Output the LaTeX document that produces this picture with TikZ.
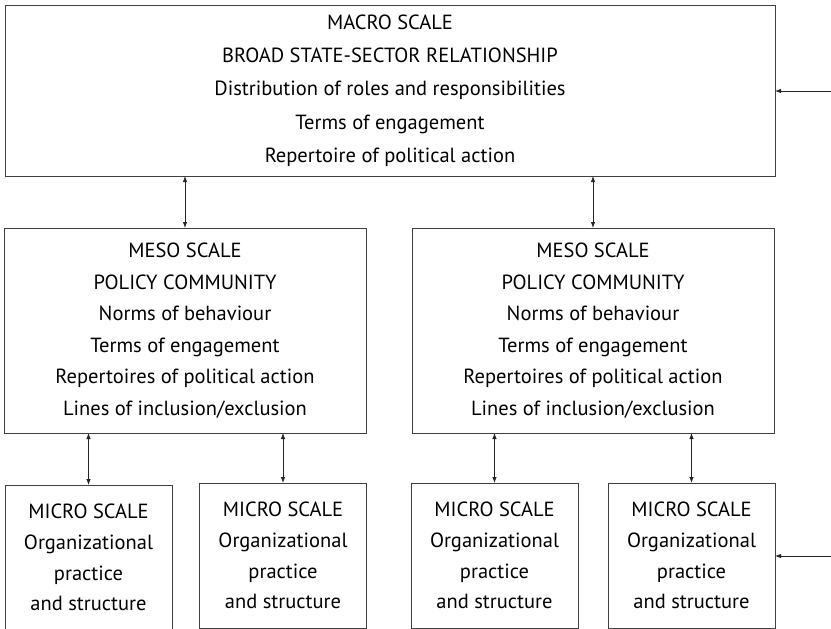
\documentclass[tikz,border=0pt]{standalone}
\usepackage{fontspec}
\setmainfont{PT Sans}
\usetikzlibrary{arrows.meta}
\begin{document}
\begin{tikzpicture}[x=1pt,y=-1pt,
  every node/.style={inner sep=0pt, outer sep=0pt},
  frame/.style={draw=black!75, line width=1pt},
  panel/.style={frame, align=center,
    font=\fontsize{20.5}{33.3}\selectfont},
  macrobox/.style={panel, minimum width=770pt, minimum height=171pt},
  mesobox/.style={panel, minimum width=362pt, minimum height=205pt,
    font=\fontsize{20.5}{31.5}\selectfont},
  microbox/.style={panel, minimum width=167pt, minimum height=145pt,
    font=\fontsize{20.5}{30.7}\selectfont},
  link/.style={draw=black!85, line width=0.8pt,
    {Latex[length=6pt,width=4.5pt]}-{Latex[length=6pt,width=4.5pt]}},
  feed/.style={draw=black!85, line width=0.8pt, -{Latex[length=6pt,width=4.5pt]}}
]
\clip (0,0) rectangle (831,629);
\useasboundingbox (0,0) rectangle (831,629);

% macro level
\node[macrobox] (macro) at (390,90.5) {MACRO SCALE\\BROAD STATE-SECTOR RELATIONSHIP\\Distribution of roles and responsibilities\\Terms of engagement\\Repertoire of political action};

% meso level
\node[mesobox] (mesoL) at (185,330.5) {MESO SCALE\\POLICY COMMUNITY\\Norms of behaviour\\Terms of engagement\\Repertoires of political action\\Lines of inclusion/exclusion};
\node[mesobox] (mesoR) at (593,330.5) {MESO SCALE\\POLICY COMMUNITY\\Norms of behaviour\\Terms of engagement\\Repertoires of political action\\Lines of inclusion/exclusion};

% micro level (the first box runs past the lower edge)
\node[microbox, draw=none] (micro1) at (88.5,557.5) {MICRO SCALE\\Organizational\\practice\\and structure};
\draw[frame] (micro1.north west) rectangle ([yshift=-30pt]micro1.south east);
\node[microbox] (micro2) at (283,555.5) {MICRO SCALE\\Organizational\\practice\\and structure};
\node[microbox] (micro3) at (494.5,555.5) {MICRO SCALE\\Organizational\\practice\\and structure};
\node[microbox] (micro4) at (691.5,555.5) {MICRO SCALE\\Organizational\\practice\\and structure};

% links between levels
\draw[link] (macro.south -| mesoL.north) -- (mesoL.north);
\draw[link] (macro.south -| mesoR.north) -- (mesoR.north);
\draw[link] (mesoL.south -| micro1.north) -- (micro1.north);
\draw[link] (mesoL.south -| micro2.north) -- (micro2.north);
\draw[link] (mesoR.south -| micro3.north) -- (micro3.north);
\draw[link] (mesoR.south -| micro4.north) -- (micro4.north);

% external inputs from the right
\coordinate (inTop) at (831,91);
\coordinate (inBot) at (831,556);
\draw[feed] (inTop) -- (inTop -| macro.east);
\draw[feed] (inBot) -- (inBot -| micro4.east);
\end{tikzpicture}
\end{document}
